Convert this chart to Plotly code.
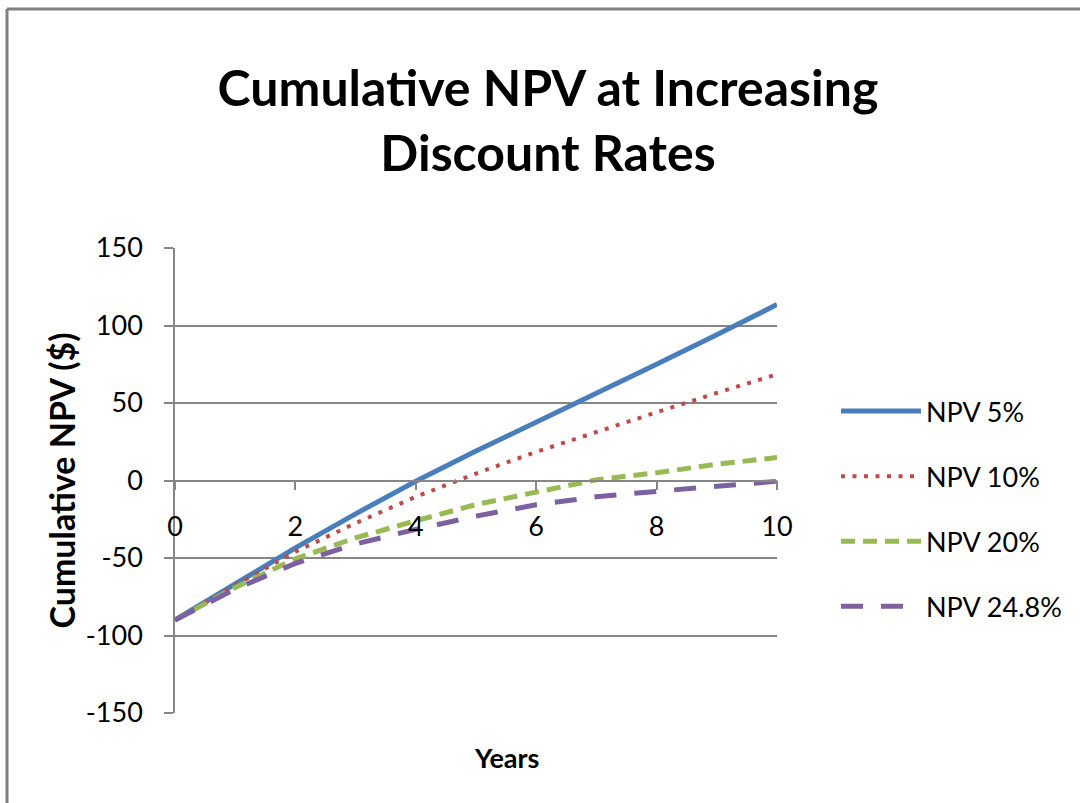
import plotly.graph_objects as go

years = [0, 1, 2, 3, 4, 5, 6, 7, 8, 9, 10]
npv_5 = [-90, -66.5, -43.5, -21.5, -0.5, 19, 37.5, 56.5, 75, 94, 113.5]
npv_10 = [-90, -67.5, -46, -27.5, -10.5, 4.5, 18.5, 31.5, 44, 56.5, 68.5]
npv_20 = [-90, -69, -50.5, -37, -26, -15.5, -7.5, 0.5, 5, 10.5, 14.8]
npv_248 = [-90, -70, -53.5, -41, -31.5, -23, -15.7, -10.5, -7, -3.5, -0.5]

series_names = ["NPV 5%", "NPV 10%", "NPV 20%", "NPV 24.8%"]
series_values = [npv_5, npv_10, npv_20, npv_248]
colors = ["#4A7EBB", "#BE4B48", "#98B954", "#7D60A0"]
dashes = ["solid", "4px,7.5px", "14px,8px", "22px,18px"]
widths = [5, 4, 5, 5]

x_ticks = [0, 2, 4, 6, 8, 10]
y_ticks = [-150, -100, -50, 0, 50, 100, 150]

FONT = "Lato, Roboto, Open Sans, sans-serif"
GRID = "#868686"

fig = go.Figure()
for i, (name, vals) in enumerate(zip(series_names, series_values)):
    fig.add_trace(go.Scatter(
        x=years, y=vals, mode="lines", name=name,
        legendgroup=name,
        line=dict(color=colors[i], width=widths[i], dash=dashes[i]),
    ))

W, H = 1080, 803
L, R, T, B = 175, 303, 248, 90
px_w, px_h = W - L - R, H - T - B

fig.update_layout(
    width=W, height=H,
    margin=dict(l=L, r=R, t=T, b=B),
    paper_bgcolor="white", plot_bgcolor="white",
    font=dict(family=FONT, color="#000000"),
    title=dict(
        text="<b>Cumulative NPV at Increasing<br>Discount Rates</b>",
        font=dict(family=FONT, size=50, color="#000000"),
        x=548 / W, xanchor="center", xref="container",
        y=1 - 106 / H, yanchor="middle", yref="container",
    ),
    xaxis=dict(
        range=[0, 10], tickvals=x_ticks, ticktext=[str(v) for v in x_ticks],
        anchor="free", position=0.5,
        showgrid=False, zeroline=False,
        showline=True, linecolor=GRID, linewidth=1.5,
        ticks="outside", ticklen=9, tickcolor=GRID, tickwidth=1.5,
        tickfont=dict(family=FONT, size=27, color="#000000"),
        ticklabelstandoff=13,
    ),
    yaxis=dict(
        range=[-150, 150], tickvals=y_ticks, ticktext=[str(v) for v in y_ticks],
        showgrid=True, gridcolor=GRID, gridwidth=1.5,
        zeroline=False,
        showline=True, linecolor=GRID, linewidth=1.5,
        ticks="outside", ticklen=9, tickcolor=GRID, tickwidth=1.5,
        tickfont=dict(family=FONT, size=27, color="#000000"),
        ticklabelstandoff=16,
        title=dict(text="<b>Cumulative NPV ($)</b>",
                   font=dict(family=FONT, size=34, color="#000000"),
                   standoff=0),
    ),
    legend=dict(
        x=(836 - L) / px_w, xanchor="left",
        y=(H - B - 387) / px_h, yanchor="top",
        font=dict(family=FONT, size=27, color="#000000"),
        tracegroupgap=27, traceorder="grouped",
        itemwidth=80,
        bgcolor="rgba(0,0,0,0)",
    ),
    showlegend=True,
)

fig.add_annotation(
    text="<b>Years</b>",
    x=(506 - L) / px_w, y=(H - B - 757) / px_h, xref="paper", yref="paper",
    xanchor="center", yanchor="middle",
    showarrow=False, font=dict(family=FONT, size=27, color="#000000"),
)

# chart frame (left and top edges visible)
fx = (7 - L) / px_w
fy = (H - B - 9) / px_h
fig.add_shape(type="line", xref="paper", yref="paper",
              x0=fx, x1=fx, y0=fy, y1=(H - B - H - 10) / px_h,
              line=dict(color="#808080", width=3))
fig.add_shape(type="line", xref="paper", yref="paper",
              x0=fx, x1=(W + 10 - L) / px_w, y0=fy, y1=fy,
              line=dict(color="#808080", width=3))

fig.write_html("out.html", config={"displayModeBar": False},
               post_script="document.body.style.margin='0px';")
